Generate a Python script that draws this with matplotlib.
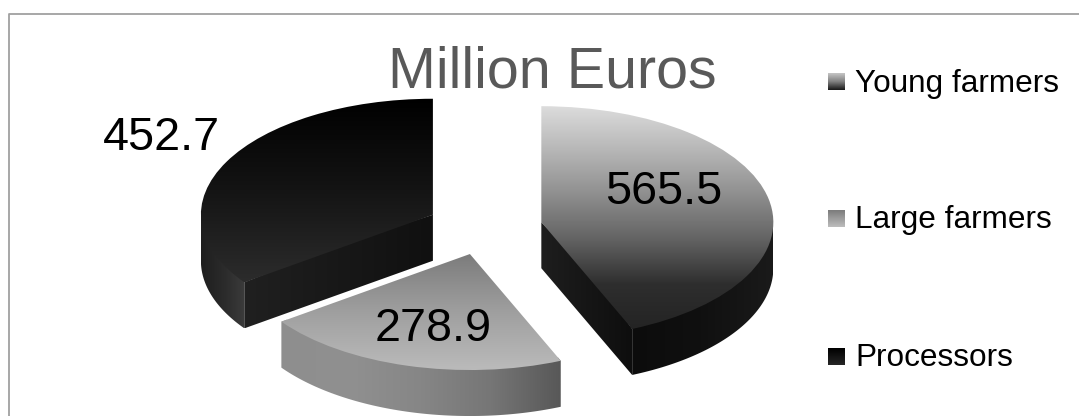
# exploded 3D-look pie with gray gradients
import numpy as np
import matplotlib
matplotlib.use('Agg')
import matplotlib.pyplot as plt
from matplotlib.colors import LinearSegmentedColormap
from matplotlib.patches import Polygon

plt.rcParams['font.family'] = ['Liberation Sans', 'DejaVu Sans']

title = 'Million Euros'
categories = ['Young farmers', 'Large farmers', 'Processors']
values = [565.5, 278.9, 452.7]

W, H = 1079, 416
CX, CY = 484.5, 228   # pie centre, pixels
RX, RY = 232, 116     # ellipse radii, pixels
DEPTH = 46 / RY       # wall height in pie y units
explode = [0.25, 0.233, 0.25]

# gray ramps: top surface runs top to bottom, walls run left to right
top_ramps = [
    ['#dcdcdc', '#b6b6b6', '#8e8e8e', '#626262', '#2e2e2e', '#242424'],
    ['#7c7c7c', '#a0a0a0', '#bcbcbc'],
    ['#000000', '#141414', '#2c2c2c'],
]
wall_ramps = [
    ['#0c0c0c', '#101010', '#1a1a1a'],
    ['#8e8e8e', '#909090', '#868686', '#767676', '#585858'],
    ['#1e1e1e', '#2c2c2c', '#404040'],
]
inner_ramps = [
    ['#1e1e1e', '#0e0e0e'],
    ['#808080', '#808080'],
    ['#202020', '#101010'],
]
swatch_ramps = [
    ['#c4c4c4', '#808080', '#1a1a1a'],
    ['#7c7c7c', '#bcbcbc'],
    ['#000000', '#262626'],
]
label_pos = [(664, 204.5), (433, 341), (161, 150.5)]
swatch_y = [81.5, 218.5, 356.5]
legend_base = [92, 228, 366]


def ramp(colors):
    return LinearSegmentedColormap.from_list('ramp', colors)


def fill_gradient(ax, patch, colors, vertical):
    # paint a gradient image over the patch bounding box and clip it to the patch
    verts = patch.get_path().vertices
    if not isinstance(patch, Polygon):
        verts = patch.get_patch_transform().transform(verts)
    x0, y0 = verts.min(axis=0)
    x1, y1 = verts.max(axis=0)
    g = np.linspace(0, 1, 256)
    g = g[:, None] if vertical else g[None, :]
    im = ax.imshow(g, cmap=ramp(colors), extent=(x0, x1, y0, y1), origin='upper',
                   aspect='auto', vmin=0, vmax=1, zorder=patch.get_zorder(), interpolation='bilinear')
    im.set_clip_path(patch)


def arc(center, t0, t1):
    t = np.radians(np.linspace(t0, t1, 80))
    return np.column_stack([center[0] + np.cos(t), center[1] + np.sin(t)])


fig = plt.figure(figsize=(W / 100, H / 100), dpi=100, facecolor='white')

# plain pixel axes for the frame, title and legend
bg = fig.add_axes([0, 0, 1, 1])
bg.axis('off')
bg.plot([8.5, 8.5, W], [H, 13.5, 13.5], color='#a0a0a0', lw=1.3)
bg.text(552, 87.5, title, fontsize=41.3, color='#595959', ha='center', va='baseline')

for name, sy, by, colors in zip(categories, swatch_y, legend_base, swatch_ramps):
    g = np.linspace(0, 1, 32)[:, None]
    bg.imshow(g, cmap=ramp(colors), extent=(828, 845, sy + 8.5, sy - 8.5), origin='upper',
              aspect='auto', vmin=0, vmax=1)
    bg.text(855, by, name, fontsize=22.7, color='black', ha='left', va='baseline')
bg.set_xlim(0, W)
bg.set_ylim(H, 0)

# pie axes stretched so one data unit is RX by RY pixels
ax = fig.add_axes([0, 0, 1, 1])
wedges, _ = ax.pie(values, explode=explode, startangle=90, counterclock=False,
                   radius=1, wedgeprops={'facecolor': 'none', 'edgecolor': 'none'})

for i, w in enumerate(wedges):
    c = np.array(w.center)
    mid = np.radians((w.theta1 + w.theta2) / 2)
    inward = 0.03 * np.array([np.cos(mid), np.sin(mid)])
    # outer wall, only the front half of the rim shows
    lo, hi = max(w.theta1, -180), min(w.theta2, 0)
    if hi > lo:
        rim = arc(c, lo, hi)
        # upper edge tucks under the top surface so no seam shows
        tucked = c + 0.97 * (rim - c)
        wall = Polygon(np.vstack([rim[:1], tucked, rim[-1:], (rim - [0, DEPTH])[::-1]]), closed=True,
                       facecolor='none', edgecolor='none', zorder=2)
        ax.add_patch(wall)
        fill_gradient(ax, wall, wall_ramps[i], vertical=False)
    # cut faces turned towards the viewer
    for t, visible in ((w.theta1, np.cos(np.radians(w.theta1)) > 1e-6),
                       (w.theta2, np.cos(np.radians(w.theta2)) < -1e-6)):
        if visible:
            p = c + [np.cos(np.radians(t)), np.sin(np.radians(t))]
            face = Polygon([c, (c + p) / 2 + inward, p, p - [0, DEPTH], c - [0, DEPTH]], closed=True,
                           facecolor='none', edgecolor='none', zorder=2)
            ax.add_patch(face)
            fill_gradient(ax, face, inner_ramps[i], vertical=False)
    w.set_zorder(3)
    fill_gradient(ax, w, top_ramps[i], vertical=True)

ax.set_aspect('auto')
ax.set_xlim(-CX / RX, (W - CX) / RX)
ax.set_ylim((CY - H) / RY, CY / RY)
ax.axis('off')

for v, (x, y) in zip(values, label_pos):
    bg.text(x, y, f'{v}', fontsize=33.7, color='black', ha='center', va='baseline', zorder=10)
bg.set_zorder(ax.get_zorder() + 1)

fig.savefig('out.png', dpi=100)
